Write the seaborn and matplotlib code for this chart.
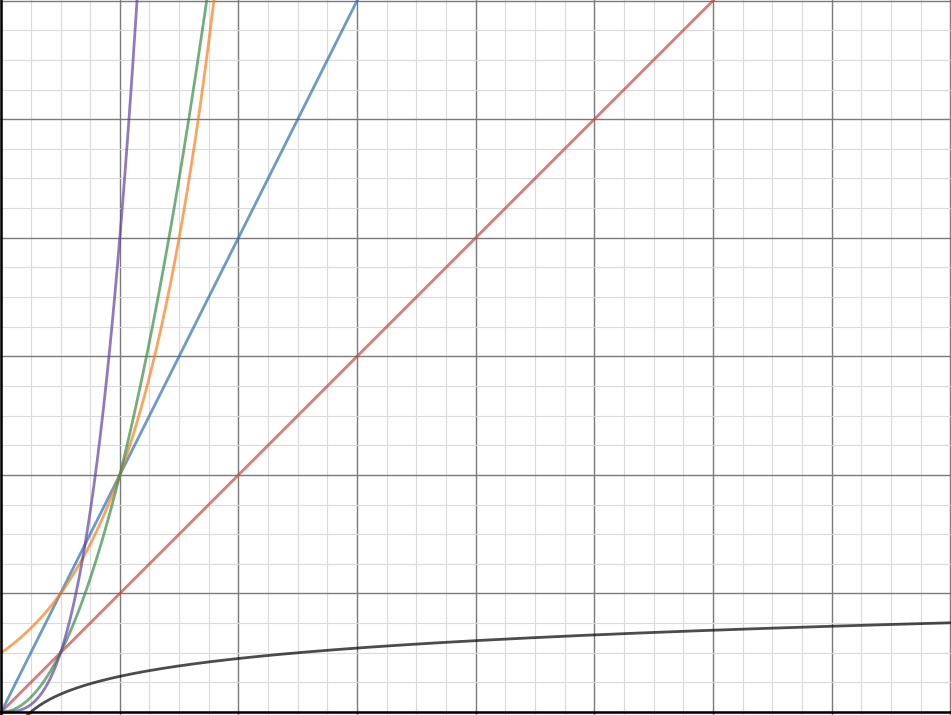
import numpy as np
import pandas as pd
import matplotlib
matplotlib.use("Agg")
import matplotlib.pyplot as plt
import seaborn as sns

# curves (Desmos style function plot)
curve_names = ["x", "2x", "4^x / 2", "2x^2", "4x^3", "log10(4x) / 2"]
curve_colors = ["#c74440", "#2d70b3", "#fa7e19", "#388c46", "#6042a6", "#000000"]
line_slopes = [1, 2]          # y = k*x
exp_base = 4                  # y = base^x / 2
exp_scale = 0.5
poly_coef = [2, 4]            # y = a*x^n
poly_power = [2, 3]
log_inner = 4                 # y = log10(4x) / 2
log_scale = 0.5

x_max = 8
y_max = 6

xs = np.linspace(0.0005, x_max, 2000)
frames = []
frames.append(pd.DataFrame({"x": xs, "y": line_slopes[0] * xs, "f": curve_names[0]}))
frames.append(pd.DataFrame({"x": xs, "y": line_slopes[1] * xs, "f": curve_names[1]}))
frames.append(pd.DataFrame({"x": xs, "y": exp_scale * exp_base ** xs, "f": curve_names[2]}))
frames.append(pd.DataFrame({"x": xs, "y": poly_coef[0] * xs ** poly_power[0], "f": curve_names[3]}))
frames.append(pd.DataFrame({"x": xs, "y": poly_coef[1] * xs ** poly_power[1], "f": curve_names[4]}))
frames.append(pd.DataFrame({"x": xs, "y": log_scale * np.log10(log_inner * xs), "f": curve_names[5]}))
df = pd.concat(frames, ignore_index=True)
df.loc[df["y"] > y_max + 1, "y"] = np.nan

sns.set_style("white")
fig = plt.figure(figsize=(9.51, 7.15), dpi=100)
ax = fig.add_axes([0, 0, 1, 1])

# grid: minor every 0.25, major every 1
for v in np.arange(0, x_max + 0.01, 0.25):
    major = abs(v - round(v)) < 1e-9
    ax.axvline(v, color="#7a7a7a" if major else "#dadada",
               lw=1.0 if major else 0.8, zorder=0)
for v in np.arange(0, y_max + 0.01, 0.25):
    major = abs(v - round(v)) < 1e-9
    ax.axhline(v, color="#7a7a7a" if major else "#dadada",
               lw=1.0 if major else 0.8, zorder=0)

sns.lineplot(data=df, x="x", y="y", hue="f", hue_order=curve_names,
             palette=curve_colors, linewidth=2.0, alpha=0.7, legend=False,
             sort=False, ax=ax, zorder=3)

# axes lines
ax.axhline(0, color="black", lw=1.8, zorder=4)
ax.axvline(0, color="black", lw=1.8, zorder=4)

ax.set_xlim(-0.01, x_max + 0.006)
ax.set_ylim(-0.025, y_max + 0.005)
ax.set_xticks([])
ax.set_yticks([])
ax.set_xlabel("")
ax.set_ylabel("")
for s in ax.spines.values():
    s.set_visible(False)

fig.savefig("out.png", dpi=100)
